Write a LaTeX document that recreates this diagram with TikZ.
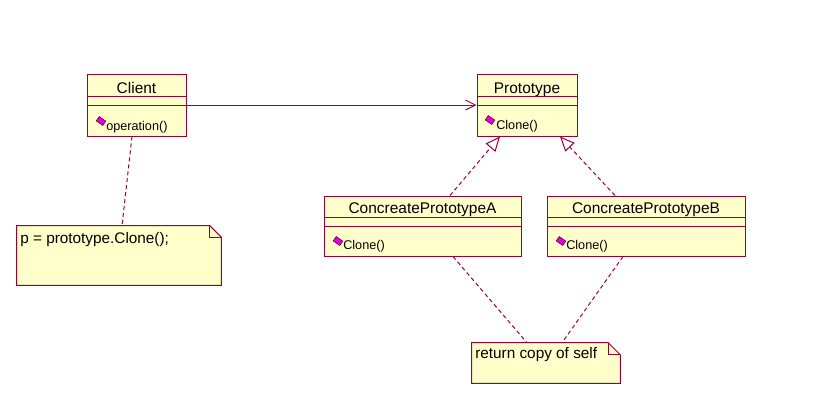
\documentclass[tikz,border=0pt]{standalone}
\usepackage{fontspec}
\setmainfont{Liberation Sans}
\usetikzlibrary{arrows.meta,fit,calc}
\definecolor{umlline}{RGB}{153,0,51}
\definecolor{umlfill}{RGB}{255,255,204}
\definecolor{umlicon}{RGB}{225,0,225}

\begin{document}
\begin{tikzpicture}[x=0.75pt,y=-0.75pt,
    classbox/.style={draw=umlline,fill=umlfill,line width=0.75pt,inner sep=0pt},
    notebox/.style={inner sep=0pt},
    sepline/.style={draw=umlline,line width=0.75pt},
    titletext/.style={anchor=base,inner sep=0pt,font=\fontsize{11.6}{14}\selectfont},
    membertext/.style={anchor=base west,inner sep=0pt,font=\fontsize{9.5}{11}\selectfont},
    notetext/.style={anchor=base west,inner sep=0pt,font=\fontsize{11.5}{14}\selectfont},
    opicon/.style={draw=umlline!60!black,fill=umlicon,line width=0.4pt,inner sep=0pt,
      minimum width=6pt,minimum height=4pt,rotate=-35},
    assoc/.style={draw=umlline,line width=0.75pt,-{Straight Barb[length=7.5pt,width=7.5pt]}},
    inherit/.style={draw=umlline,line width=0.75pt,dash pattern=on 3pt off 2.25pt,
      -{Triangle[length=11pt,width=9.5pt,fill=white]}},
    anchorline/.style={draw=umlline,line width=0.75pt,dash pattern=on 3pt off 2.25pt}
  ]
  \useasboundingbox (0,0) rectangle (832,401);

  % classes
  \node[classbox,fit={(87,74) (186,136)}] (client) {};
  \node[classbox,fit={(477,74) (577,136)}] (proto) {};
  \node[classbox,fit={(324,196) (521,256)}] (cpa) {};
  \node[classbox,fit={(547,196) (745,256)}] (cpb) {};

  \draw[sepline] ([yshift=-17.25pt]client.north west) -- ([yshift=-17.25pt]client.north east);
  \draw[sepline] ([yshift=-24pt]client.north west) -- ([yshift=-24pt]client.north east);
  \draw[sepline] ([yshift=-17.25pt]proto.north west) -- ([yshift=-17.25pt]proto.north east);
  \draw[sepline] ([yshift=-24pt]proto.north west) -- ([yshift=-24pt]proto.north east);
  \draw[sepline] ([yshift=-16.5pt]cpa.north west) -- ([yshift=-16.5pt]cpa.north east);
  \draw[sepline] ([yshift=-23.5pt]cpa.north west) -- ([yshift=-23.5pt]cpa.north east);
  \draw[sepline] ([yshift=-16.5pt]cpb.north west) -- ([yshift=-16.5pt]cpb.north east);
  \draw[sepline] ([yshift=-23.5pt]cpb.north west) -- ([yshift=-23.5pt]cpb.north east);

  \node[titletext] (clientname) at (136.5,93) {Client};
  \node[titletext] (protoname) at (527,93) {Prototype};
  \node[titletext] (cpaname) at (422.5,213) {ConcreatePrototypeA};
  \node[titletext] (cpbname) at (646,213) {ConcreatePrototypeB};

  \node[opicon] (clienticon) at (101,121) {};
  \node[membertext] (clientop) at (106,130) {operation()};
  \node[opicon] (protoicon) at (490,120) {};
  \node[membertext] (protoop) at (496,129) {Clone()};
  \node[opicon] (cpaicon) at (338,241) {};
  \node[membertext] (cpaop) at (343,249) {Clone()};
  \node[opicon] (cpbicon) at (561,241) {};
  \node[membertext] (cpbop) at (566,249) {Clone()};

  % notes
  \node[notebox,fit={(17,226) (221,285)}] (note1) {};
  \filldraw[fill=umlfill,draw=umlline,line width=0.75pt] (note1.north west)
    -- ([xshift=-8.5pt]note1.north east) -- ([yshift=-8.5pt]note1.north east)
    -- (note1.south east) -- (note1.south west) -- cycle;
  \draw[umlline,line width=0.75pt] ([xshift=-8.5pt]note1.north east)
    |- ([yshift=-8.5pt]note1.north east);
  \node[notetext] (note1text) at (20,243) {p = prototype.Clone();};

  \node[notebox,fit={(472,343) (620,383)}] (note2) {};
  \filldraw[fill=umlfill,draw=umlline,line width=0.75pt] (note2.north west)
    -- ([xshift=-9pt]note2.north east) -- ([yshift=-9pt]note2.north east)
    -- (note2.south east) -- (note2.south west) -- cycle;
  \draw[umlline,line width=0.75pt] ([xshift=-9pt]note2.north east)
    |- ([yshift=-9pt]note2.north east);
  \node[notetext] (note2text) at (475,358) {return copy of self};

  % connectors
  \draw[assoc] (client) -- (proto);
  \draw[inherit] ($(cpa.north)+(27.5,0)$) -- ($(proto.south)+(-27,0)$);
  \draw[inherit] ($(cpb.north)+(-31,0)$) -- ($(proto.south)+(33,0)$);
  \draw[anchorline] ($(client.south)+(-4.5,0)$) -- ($(note1.north)+(3,0)$);
  \draw[anchorline] ($(cpa.south)+(30.5,0)$) -- ($(note2.north)+(-19,0)$);
  \draw[anchorline] ($(cpb.south)+(-23,0)$) -- ($(note2.north)+(16,0)$);
\end{tikzpicture}
\end{document}
